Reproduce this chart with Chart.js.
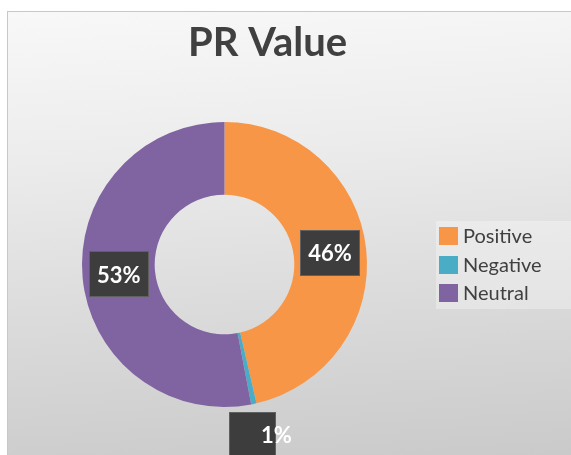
<!DOCTYPE html>
<html>
<head>
<meta charset="utf-8">
<script src="https://cdn.jsdelivr.net/npm/chart.js@4.4.1/dist/chart.umd.min.js"></script>
<style>
  html, body { margin: 0; padding: 0; background: #ffffff; overflow: hidden; }
  #frame {
    position: absolute; left: 7px; top: 11px; width: 600px; height: 460px;
    border-left: 1px solid #c8c8c8; border-top: 1px solid #c8c8c8;
    background: linear-gradient(176deg, #f8f8f8 0%, #ececec 30%, #dcdcdc 60%, #c8c8c8 100%);
  }
  #wrap { position: absolute; left: 0; top: 0; width: 571px; height: 455px; }
</style>
</head>
<body>
<div id="frame"></div>
<div id="wrap"><canvas id="prChart" width="571" height="455"></canvas></div>
<script>
const categories = ['Positive', 'Negative', 'Neutral'];
const prValues = [46.4, 0.6, 53.0];
const valueLabels = ['46%', '1%', '53%'];

const SLICE_COLORS = ['#F79646', '#4BACC6', '#8064A2'];
const TEXT_COLOR = '#404040';
const FONT = 'Lato, "Open Sans", sans-serif';

// Donut sits left of the title centre, so move the chart area after layout
const donutPlacement = {
    id: 'donutPlacement',
    afterLayout(chart) {
        const a = chart.chartArea;
        const size = a.bottom - a.top;
        const cx = 224.5;
        a.left = cx - size / 2;
        a.right = cx + size / 2;
        a.width = size;
    }
};

// Dark boxed data labels like the Excel ones
const boxLabels = {
    id: 'boxLabels',
    afterDatasetsDraw(chart) {
        const ctx = chart.ctx;
        const meta = chart.getDatasetMeta(0);
        const total = prValues.reduce((s, v) => s + v, 0);
        ctx.save();
        ctx.font = 'bold 22px ' + FONT;
        ctx.textAlign = 'center';
        ctx.textBaseline = 'middle';
        meta.data.forEach((arc, i) => {
            const p = arc.getProps(['x', 'y', 'startAngle', 'endAngle', 'innerRadius', 'outerRadius'], true);
            const mid = (p.startAngle + p.endAngle) / 2;
            const small = prValues[i] / total < 0.05;
            const r = small ? p.outerRadius + 32 : (p.innerRadius + p.outerRadius) / 2;
            const x = p.x + Math.cos(mid) * r;
            const y = p.y + Math.sin(mid) * r;
            const txt = valueLabels[i];
            const w = small ? 47 : ctx.measureText(txt).width + 16;
            const h = 46;
            const bx = small ? x - 8 : x;
            ctx.fillStyle = '#3d3d3d';
            ctx.fillRect(Math.round(bx - w / 2), Math.round(y - h / 2), Math.round(w), h);
            ctx.strokeStyle = 'rgba(255,255,255,0.18)';
            ctx.lineWidth = 1;
            ctx.strokeRect(Math.round(bx - w / 2) + 0.5, Math.round(y - h / 2) + 0.5, Math.round(w) - 1, h - 1);
            ctx.fillStyle = '#ffffff';
            ctx.fillText(txt, small ? x + 16 : x, y + 1);
        });
        ctx.restore();
    }
};

// Legend on the right, drawn from the chart's own labels and colours
const sideLegend = {
    id: 'sideLegend',
    afterDraw(chart) {
        const ctx = chart.ctx;
        const ds = chart.data.datasets[0];
        ctx.save();
        ctx.fillStyle = 'rgba(255,255,255,0.3)';
        ctx.fillRect(436, 221, 135, 88);
        ctx.font = '20px ' + FONT;
        ctx.textBaseline = 'middle';
        ctx.textAlign = 'left';
        chart.data.labels.forEach((lbl, i) => {
            const y = 236 + i * 28.5;
            ctx.fillStyle = ds.backgroundColor[i];
            ctx.fillRect(439, Math.round(y - 9), 19, 18);
            ctx.fillStyle = TEXT_COLOR;
            ctx.fillText(lbl, 463, y + 1);
        });
        ctx.restore();
    }
};

new Chart(document.getElementById('prChart'), {
    type: 'doughnut',
    data: {
        labels: categories,
        datasets: [{
            data: prValues,
            backgroundColor: SLICE_COLORS,
            borderWidth: 0
        }]
    },
    options: {
        responsive: false,
        animation: false,
        cutout: '49%',
        layout: { padding: { top: 0, left: 0, right: 36, bottom: 48 } },
        plugins: {
            legend: { display: false },
            tooltip: { enabled: false },
            title: {
                display: true,
                text: 'PR Value',
                color: TEXT_COLOR,
                font: { family: FONT, size: 40, weight: 'bold' },
                padding: { top: 19, bottom: 55 }
            }
        }
    },
    plugins: [donutPlacement, boxLabels, sideLegend]
});
</script>
</body>
</html>
